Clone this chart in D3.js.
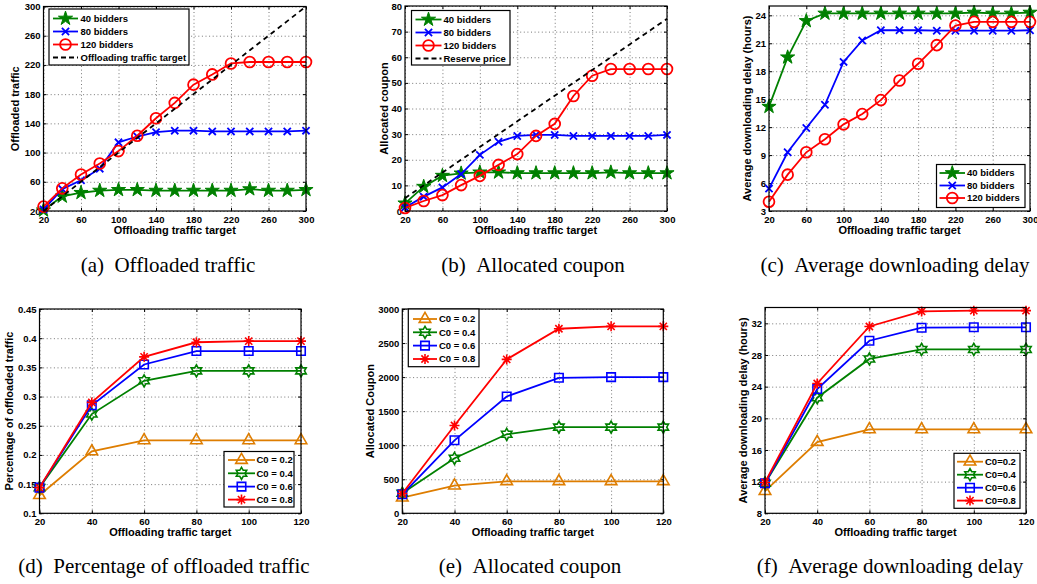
<!DOCTYPE html>
<html>
<head>
<meta charset="utf-8">
<script src="https://cdn.jsdelivr.net/npm/d3@7"></script>
<style>
body { margin: 0; background: #fff; }
svg text { font-family: "Liberation Sans", Arial, sans-serif; font-weight: bold; fill: #000; }
svg text.caption { font-family: "Liberation Serif", "Times New Roman", serif; font-weight: normal; }
</style>
</head>
<body>
<svg id="fig" width="1037" height="584"></svg>
<script>
//Data
var xTarget = [20, 40, 60, 80, 100, 120, 140, 160, 180, 200, 220, 240, 260, 280, 300];
var traffic40 = [21, 40, 45, 48, 49, 49, 48, 48, 48, 48, 48, 50, 48, 48, 49];
var traffic80 = [22, 50, 62, 78, 114, 122, 128, 130, 130, 129, 129, 129, 129, 129, 130];
var traffic120 = [26, 51, 70, 85, 102, 123, 147, 168, 193, 207, 222, 224, 224, 224, 224];
var trafficTarget = [20, 40, 60, 80, 100, 120, 140, 160, 180, 200, 220, 240, 260, 280, 300];

var coupon40 = [3, 9.5, 13.8, 14.7, 15.1, 15.1, 14.8, 14.8, 14.8, 14.8, 14.8, 15.1, 14.8, 14.8, 14.8];
var coupon80 = [1.4, 5.6, 9.2, 14.4, 21.9, 27, 29.3, 29.7, 29.7, 29.3, 29.3, 29.3, 29.3, 29.3, 29.7];
var coupon120 = [1.2, 3.9, 6.2, 10.1, 13.7, 18, 22.2, 29.3, 34, 44.9, 52.8, 55.4, 55.4, 55.4, 55.4];
var reservePrice = [5, 10, 15, 20, 25, 30, 35, 40, 45, 50, 55, 60, 65, 70, 75];

var delay40 = [14.2, 19.5, 23.4, 24.2, 24.2, 24.2, 24.2, 24.2, 24.2, 24.2, 24.2, 24.3, 24.2, 24.2, 24.3];
var delay80 = [5.4, 9.3, 11.9, 14.4, 19, 21.3, 22.4, 22.4, 22.4, 22.35, 22.35, 22.35, 22.35, 22.35, 22.4];
var delay120 = [4.0, 6.9, 9.3, 10.7, 12.3, 13.4, 14.9, 17, 18.8, 20.8, 22.9, 23.3, 23.3, 23.3, 23.3];

var xSmall = [20, 40, 60, 80, 100, 120];
var pctC02 = [0.131, 0.206, 0.225, 0.225, 0.225, 0.225];
var pctC04 = [0.144, 0.27, 0.327, 0.344, 0.344, 0.344];
var pctC06 = [0.144, 0.285, 0.355, 0.378, 0.378, 0.378];
var pctC08 = [0.144, 0.29, 0.368, 0.393, 0.395, 0.395];

var couponC02 = [230, 406, 470, 470, 470, 470];
var couponC04 = [294, 808, 1160, 1265, 1265, 1265];
var couponC06 = [279, 1072, 1715, 1990, 2000, 2000];
var couponC08 = [290, 1290, 2260, 2710, 2745, 2745];

var delayC02 = [10.8, 17.0, 18.6, 18.6, 18.6, 18.6];
var delayC04 = [11.8, 22.6, 27.5, 28.7, 28.7, 28.7];
var delayC06 = [11.8, 23.7, 29.8, 31.45, 31.5, 31.5];
var delayC08 = [11.9, 24.4, 31.6, 33.5, 33.6, 33.6];

//Ticks
var xTicksTop = [20, 60, 100, 140, 180, 220, 260, 300];
var yTicksA = [20, 60, 100, 140, 180, 220, 260, 300];
var yTicksB = [0, 10, 20, 30, 40, 50, 60, 70, 80];
var yTicksC = [3, 6, 9, 12, 15, 18, 21, 24];
var xTicksBottom = [20, 40, 60, 80, 100, 120];
var yTicksD = [0.1, 0.15, 0.2, 0.25, 0.3, 0.35, 0.4, 0.45];
var yLabelsD = ["0.1", "0.15", "0.2", "0.25", "0.3", "0.35", "0.4", "0.45"];
var yTicksE = [0, 500, 1000, 1500, 2000, 2500, 3000];
var yTicksF = [8, 12, 16, 20, 24, 28, 32];

//Legend texts
var bidderNames = ["40 bidders", "80 bidders", "120 bidders"];
var c0Names = ["C0 = 0.2", "C0 = 0.4", "C0 = 0.6", "C0 = 0.8"];
var c0NamesTight = ["C0=0.2", "C0=0.4", "C0=0.6", "C0=0.8"];

var GREEN = "#008000", BLUE = "#0000ff", RED = "#ff0000", ORANGE = "#de7d00", BLACK = "#000";

var svg = d3.select("#fig");

//Markers
function hexagramPath(R) {
    var r = R / Math.sqrt(3), pts = [];
    for (var i = 0; i < 12; i++) {
        var a = -Math.PI / 2 + i * Math.PI / 6;
        var rr = i % 2 === 0 ? R : r;
        pts.push([rr * Math.cos(a), rr * Math.sin(a)]);
    }
    return "M" + pts.map(function (p) { return p[0].toFixed(2) + "," + p[1].toFixed(2); }).join("L") + "Z";
}

function drawMarker(g, type, color) {
    if (type === "pentagram") {
        g.append("path").attr("d", d3.symbol(d3.symbolStar, 62)())
            .attr("fill", color).attr("stroke", color).attr("stroke-width", 1);
    } else if (type === "x") {
        g.append("path").attr("d", "M-3.6,-3.6L3.6,3.6M-3.6,3.6L3.6,-3.6")
            .attr("stroke", color).attr("stroke-width", 1.8).attr("fill", "none");
    } else if (type === "circle") {
        g.append("circle").attr("r", 5.4)
            .attr("stroke", color).attr("stroke-width", 1.8).attr("fill", "none");
    } else if (type === "triangle") {
        g.append("path").attr("d", d3.symbol(d3.symbolTriangle, 58)())
            .attr("stroke", color).attr("stroke-width", 1.6).attr("fill", "none");
    } else if (type === "hexagram") {
        g.append("path").attr("d", hexagramPath(6))
            .attr("stroke", color).attr("stroke-width", 1.6).attr("fill", "none");
    } else if (type === "square") {
        g.append("path").attr("d", d3.symbol(d3.symbolSquare, 72)())
            .attr("stroke", color).attr("stroke-width", 1.6).attr("fill", "none");
    } else if (type === "asterisk") {
        g.append("path").attr("d", "M-5,0L5,0M0,-5L0,5M-3.6,-3.6L3.6,3.6M-3.6,3.6L3.6,-3.6")
            .attr("stroke", color).attr("stroke-width", 1.6).attr("fill", "none");
    }
}

//Panels
var panels = [
    {
        left: 43.5, right: 306, top: 6.5, bottom: 211,
        xDomain: [20, 300], yDomain: [20, 300], xTicks: xTicksTop, yTicks: yTicksA,
        yLabel: "Offloaded traffic", yLabelX: 15,
        caption: "(a)\u2002Offloaded traffic", capX: 168, capY: 272,
        series: [
            { x: xTarget, y: traffic40, color: GREEN, marker: "pentagram", name: bidderNames[0] },
            { x: xTarget, y: traffic80, color: BLUE, marker: "x", name: bidderNames[1] },
            { x: xTarget, y: traffic120, color: RED, marker: "circle", name: bidderNames[2] },
            { x: xTarget, y: trafficTarget, color: BLACK, dashed: true, name: "Offloading traffic target" }
        ],
        legend: { x: 49, y: 9, w: 140, h: 56, lx0: 53, lx1: 78, tx: 80.5, ys: [18.5, 31.5, 44.5, 57.5] }
    },
    {
        left: 405, right: 667, top: 6, bottom: 211,
        xDomain: [20, 300], yDomain: [0, 80], xTicks: xTicksTop, yTicks: yTicksB,
        yLabel: "Allocated coupon", yLabelX: 384,
        caption: "(b)\u2002Allocated coupon", capX: 533, capY: 272,
        series: [
            { x: xTarget, y: coupon40, color: GREEN, marker: "pentagram", name: bidderNames[0] },
            { x: xTarget, y: coupon80, color: BLUE, marker: "x", name: bidderNames[1] },
            { x: xTarget, y: coupon120, color: RED, marker: "circle", name: bidderNames[2] },
            { x: xTarget, y: reservePrice, color: BLACK, dashed: true, name: "Reserve price" }
        ],
        legend: { x: 411.5, y: 10.5, w: 98.5, h: 54.5, lx0: 415.5, lx1: 441.5, tx: 443.5, ys: [19.5, 32.5, 45.5, 58.5] }
    },
    {
        left: 769, right: 1030, top: 6, bottom: 211,
        xDomain: [20, 300], yDomain: [3, 25], xTicks: xTicksTop, yTicks: yTicksC,
        yLabel: "Average downloading delay (hours)", yLabelX: 747,
        caption: "(c)\u2002Average downloading delay", capX: 895, capY: 272,
        series: [
            { x: xTarget, y: delay40, color: GREEN, marker: "pentagram", name: bidderNames[0] },
            { x: xTarget, y: delay80, color: BLUE, marker: "x", name: bidderNames[1] },
            { x: xTarget, y: delay120, color: RED, marker: "circle", name: bidderNames[2] }
        ],
        legend: { x: 936.5, y: 164.5, w: 88.5, h: 43, lx0: 939.5, lx1: 965, tx: 967, ys: [173, 185.5, 198] }
    },
    {
        left: 39.5, right: 301, top: 309, bottom: 513.3,
        xDomain: [20, 120], yDomain: [0.1, 0.45], xTicks: xTicksBottom, yTicks: yTicksD, yTickLabels: yLabelsD,
        yLabel: "Percentage of offloaded traffic", yLabelX: 9,
        caption: "(d)\u2002Percentage of offloaded traffic", capX: 164, capY: 573,
        series: [
            { x: xSmall, y: pctC02, color: ORANGE, marker: "triangle", name: c0Names[0] },
            { x: xSmall, y: pctC04, color: GREEN, marker: "hexagram", name: c0Names[1] },
            { x: xSmall, y: pctC06, color: BLUE, marker: "square", name: c0Names[2] },
            { x: xSmall, y: pctC08, color: RED, marker: "asterisk", name: c0Names[3] }
        ],
        legend: { x: 224, y: 451.5, w: 70, h: 55.5, lx0: 228, lx1: 255, tx: 256.5, ys: [460, 473.3, 486.6, 499.6] }
    },
    {
        left: 402.3, right: 663.3, top: 309, bottom: 513.3,
        xDomain: [20, 120], yDomain: [0, 3000], xTicks: xTicksBottom, yTicks: yTicksE,
        yLabel: "Allocated Coupon", yLabelX: 370,
        caption: "(e)\u2002Allocated coupon", capX: 530, capY: 573,
        series: [
            { x: xSmall, y: couponC02, color: ORANGE, marker: "triangle", name: c0Names[0] },
            { x: xSmall, y: couponC04, color: GREEN, marker: "hexagram", name: c0Names[1] },
            { x: xSmall, y: couponC06, color: BLUE, marker: "square", name: c0Names[2] },
            { x: xSmall, y: couponC08, color: RED, marker: "asterisk", name: c0Names[3] }
        ],
        legend: { x: 408.3, y: 309, w: 70.7, h: 57.7, lx0: 413, lx1: 437, tx: 439, ys: [319, 332.3, 345.6, 359] }
    },
    {
        left: 765, right: 1026, top: 307.5, bottom: 513.3,
        xDomain: [20, 120], yDomain: [8, 34], xTicks: xTicksBottom, yTicks: yTicksF,
        yLabel: "Average downloading delay (hours)", yLabelX: 743.5,
        caption: "(f)\u2002Average downloading delay", capX: 890, capY: 573,
        series: [
            { x: xSmall, y: delayC02, color: ORANGE, marker: "triangle", name: c0NamesTight[0] },
            { x: xSmall, y: delayC04, color: GREEN, marker: "hexagram", name: c0NamesTight[1] },
            { x: xSmall, y: delayC06, color: BLUE, marker: "square", name: c0NamesTight[2] },
            { x: xSmall, y: delayC08, color: RED, marker: "asterisk", name: c0NamesTight[3] }
        ],
        legend: { x: 954, y: 453.3, w: 66, h: 55, lx0: 957, lx1: 983, tx: 985, ys: [461.7, 474.7, 487.7, 500.6] }
    }
];

panels.forEach(function (p) {
    var g = svg.append("g");
    var xScale = d3.scaleLinear().domain(p.xDomain).range([p.left, p.right]);
    var yScale = d3.scaleLinear().domain(p.yDomain).range([p.bottom, p.top]);
    var h = p.bottom - p.top, w = p.right - p.left;

    //Dotted grid
    var gx = g.append("g").attr("transform", "translate(0," + p.bottom + ")")
        .call(d3.axisBottom(xScale).tickValues(p.xTicks).tickSize(-h).tickFormat(""));
    var gy = g.append("g").attr("transform", "translate(" + p.left + ",0)")
        .call(d3.axisLeft(yScale).tickValues(p.yTicks).tickSize(-w).tickFormat(""));
    [gx, gy].forEach(function (gg) {
        gg.select(".domain").remove();
        gg.selectAll("line").attr("stroke", "#555").attr("stroke-width", 0.8)
            .attr("stroke-dasharray", "1,2.6");
    });

    //Axes with inward ticks
    var xAxis = g.append("g").attr("transform", "translate(0," + p.bottom + ")")
        .call(d3.axisBottom(xScale).tickValues(p.xTicks).tickSizeInner(-3).tickSizeOuter(0).tickPadding(5));
    var yAxis = g.append("g").attr("transform", "translate(" + p.left + ",0)")
        .call(d3.axisLeft(yScale).tickValues(p.yTicks).tickSizeInner(-3).tickSizeOuter(0).tickPadding(3)
            .tickFormat(function (d, i) { return p.yTickLabels ? p.yTickLabels[i] : d; }));
    var xTop = g.append("g").attr("transform", "translate(0," + p.top + ")")
        .call(d3.axisTop(xScale).tickValues(p.xTicks).tickSizeInner(-3).tickSizeOuter(0).tickFormat(""));
    var yRight = g.append("g").attr("transform", "translate(" + p.right + ",0)")
        .call(d3.axisRight(yScale).tickValues(p.yTicks).tickSizeInner(-3).tickSizeOuter(0).tickFormat(""));
    [xAxis, yAxis, xTop, yRight].forEach(function (a) {
        a.attr("font-size", 9.5);
        a.select(".domain").remove();
        a.selectAll("line").attr("stroke", "#000");
    });

    //Series
    var line = d3.line()
        .x(function (d) { return xScale(d[0]); })
        .y(function (d) { return yScale(d[1]); });
    p.series.forEach(function (s) {
        var pts = s.x.map(function (xv, i) { return [xv, s.y[i]]; });
        g.append("path").datum(pts).attr("d", line)
            .attr("fill", "none").attr("stroke", s.color)
            .attr("stroke-width", 1.8)
            .attr("stroke-dasharray", s.dashed ? "5,4" : null);
        if (s.marker) {
            g.selectAll(null).data(pts).enter().append("g")
                .attr("transform", function (d) { return "translate(" + xScale(d[0]) + "," + yScale(d[1]) + ")"; })
                .each(function () { drawMarker(d3.select(this), s.marker, s.color); });
        }
    });

    //Box
    g.append("rect").attr("x", p.left).attr("y", p.top).attr("width", w).attr("height", h)
        .attr("fill", "none").attr("stroke", "#000").attr("stroke-width", 1.2);

    //Labels
    g.append("text").attr("x", (p.left + p.right) / 2).attr("y", p.bottom + 22.5)
        .attr("text-anchor", "middle").attr("font-size", 11).text("Offloading traffic target");
    var cy = (p.top + p.bottom) / 2;
    g.append("text")
        .attr("transform", "translate(" + p.yLabelX + "," + cy + ") rotate(-90)")
        .attr("text-anchor", "middle").attr("dy", "0.35em").attr("font-size", 11).text(p.yLabel);
    g.append("text").attr("class", "caption").attr("x", p.capX).attr("y", p.capY)
        .attr("text-anchor", "middle").attr("font-size", 21).text(p.caption);

    //Legend
    var L = p.legend;
    var lg = g.append("g");
    lg.append("rect").attr("x", L.x).attr("y", L.y).attr("width", L.w).attr("height", L.h)
        .attr("fill", "#fff").attr("stroke", "#000").attr("stroke-width", 1.2);
    p.series.forEach(function (s, i) {
        var ly = L.ys[i];
        lg.append("line").attr("x1", L.lx0).attr("x2", L.lx1).attr("y1", ly).attr("y2", ly)
            .attr("stroke", s.color).attr("stroke-width", 1.8)
            .attr("stroke-dasharray", s.dashed ? "5,3" : null);
        if (s.marker) {
            var mg = lg.append("g").attr("transform", "translate(" + ((L.lx0 + L.lx1) / 2) + "," + ly + ")");
            drawMarker(mg, s.marker, s.color);
        }
        lg.append("text").attr("x", L.tx).attr("y", ly).attr("dy", "0.35em")
            .attr("font-size", 9.5).text(s.name);
    });
});
</script>
</body>
</html>
